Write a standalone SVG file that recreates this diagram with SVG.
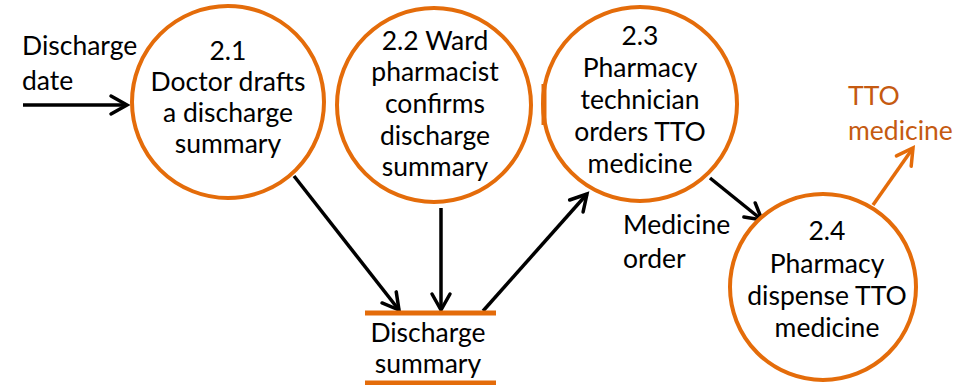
<svg xmlns="http://www.w3.org/2000/svg" width="975" height="385" viewBox="0 0 975 385">
  <style>
    .proc { fill: #ffffff; stroke: #E46C0A; stroke-width: 4; }
    .lbl { font-family: Lato, "Liberation Sans", sans-serif; font-size: 26.5px; fill: #000000; text-anchor: middle; }
    .side { font-family: Lato, "Liberation Sans", sans-serif; font-size: 26.5px; fill: #000000; }
    .out { font-family: Lato, "Liberation Sans", sans-serif; font-size: 26.5px; fill: #C55A11; }
    .flow { stroke: #000000; stroke-width: 3.5; fill: none; marker-end: url(#head); }
    .flowOut { stroke: #E46C0A; stroke-width: 3.5; fill: none; marker-end: url(#headOut); }
    .store { stroke: #E46C0A; stroke-width: 5; }
  </style>
  <defs>
    <marker id="head" markerUnits="userSpaceOnUse" markerWidth="30" markerHeight="30" viewBox="-20 -15 30 30" refX="0" refY="0" orient="auto">
      <path d="M -16 -9 L 0 0 L -16 9" fill="none" stroke="#000000" stroke-width="3.5" stroke-linecap="round" stroke-linejoin="miter"/>
    </marker>
    <marker id="headOut" markerUnits="userSpaceOnUse" markerWidth="30" markerHeight="30" viewBox="-20 -15 30 30" refX="0" refY="0" orient="auto">
      <path d="M -16 -9 L 0 0 L -16 9" fill="none" stroke="#E46C0A" stroke-width="3.5" stroke-linecap="round" stroke-linejoin="miter"/>
    </marker>
  </defs>

  <rect width="975" height="385" fill="#ffffff"/>

  <!-- data flows -->
  <g id="connectors">
    <line class="flow" x1="23" y1="105" x2="127" y2="105"/>
    <line class="flow" x1="294" y1="176" x2="399" y2="310"/>
    <line class="flow" x1="441" y1="208" x2="441" y2="310"/>
    <line class="flow" x1="483" y1="311" x2="587" y2="194"/>
    <line class="flow" x1="710" y1="178" x2="762" y2="220"/>
    <line class="flowOut" x1="873" y1="205" x2="913" y2="148"/>
  </g>

  <g id="p2_1">
    <circle class="proc" cx="228" cy="102" r="96"/>
    <text class="lbl" x="228" y="60">2.1</text>
    <text class="lbl" x="228" y="91">Doctor drafts</text>
    <text class="lbl" x="228" y="122">a discharge</text>
    <text class="lbl" x="228" y="153">summary</text>
  </g>

  <g id="p2_2">
    <circle class="proc" cx="434" cy="105" r="97"/>
    <text class="lbl" x="435" y="50">2.2 Ward</text>
    <text class="lbl" x="435" y="81">pharmacist</text>
    <text class="lbl" x="435" y="113">confirms</text>
    <text class="lbl" x="435" y="145">discharge</text>
    <text class="lbl" x="435" y="176">summary</text>
  </g>

  <g id="p2_3">
    <circle class="proc" cx="640" cy="104" r="97"/>
    <line class="store" x1="544" y1="84" x2="544" y2="125"/>
    <text class="lbl" x="640" y="45">2.3</text>
    <text class="lbl" x="640" y="77">Pharmacy</text>
    <text class="lbl" x="640" y="109">technician</text>
    <text class="lbl" x="640" y="141">orders TTO</text>
    <text class="lbl" x="640" y="173">medicine</text>
  </g>

  <g id="p2_4">
    <circle class="proc" cx="823" cy="287" r="93"/>
    <text class="lbl" x="827" y="240">2.4</text>
    <text class="lbl" x="827" y="273">Pharmacy</text>
    <text class="lbl" x="827" y="305">dispense TTO</text>
    <text class="lbl" x="827" y="337">medicine</text>
  </g>

  <g id="store_discharge_summary">
    <line class="store" x1="365" y1="313" x2="496" y2="313"/>
    <line class="store" x1="365" y1="383" x2="496" y2="383"/>
    <text class="lbl" x="428" y="342">Discharge</text>
    <text class="lbl" x="428" y="373">summary</text>
  </g>

  <g id="ext_discharge_date">
    <text class="side" x="22" y="55">Discharge</text>
    <text class="side" x="22" y="90">date</text>
  </g>

  <g id="label_medicine_order">
    <text class="side" x="623" y="234">Medicine</text>
    <text class="side" x="623" y="268">order</text>
  </g>

  <g id="ext_tto_medicine">
    <text class="out" x="848" y="105">TTO</text>
    <text class="out" x="848" y="140">medicine</text>
  </g>
</svg>
